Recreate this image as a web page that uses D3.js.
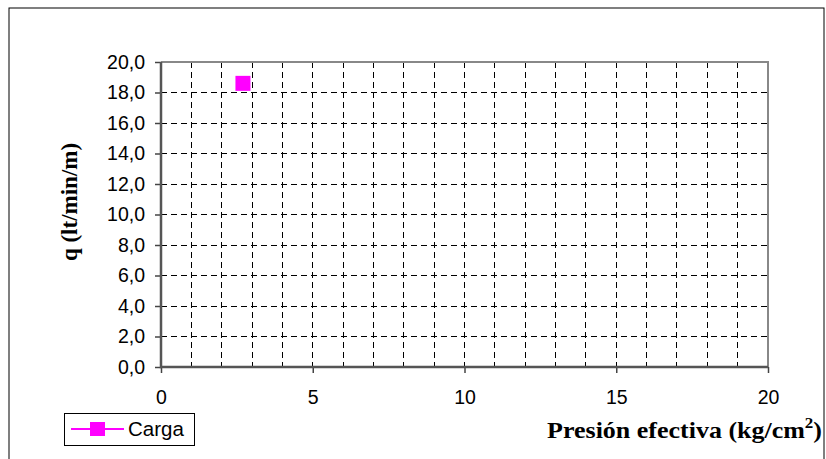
<!DOCTYPE html>
<html><head><meta charset="utf-8">
<script src="https://cdn.jsdelivr.net/npm/d3@7"></script>
<style>body{margin:0;background:#fff}svg{display:block}</style>
</head><body>
<svg id="c" width="826" height="459"></svg>
<script>
const seriesName = "Carga";
const xValues = [2.7];
const yValues = [18.6];
const xTicks = [0, 5, 10, 15, 20];
const xGrid = d3.range(1, 20);
const yTicks = [0, 2, 4, 6, 8, 10, 12, 14, 16, 18, 20];
const xTitle = "Presión efectiva (kg/cm";
const yTitle = "q (lt/min/m)";

const svg = d3.select("#c");
const L = 161, R = 768, T = 62, B = 367;
const x = d3.scaleLinear().domain([0, 20]).range([L, R]);
const y = d3.scaleLinear().domain([0, 20]).range([B, T]);

// outer frame
svg.append("rect").attr("x", 9).attr("y", 8).attr("width", 815).attr("height", 470)
  .attr("fill", "none").attr("stroke", "#000").attr("stroke-width", 1);

// grid
svg.append("g").selectAll("line").data(yTicks.filter(d => d > 0 && d < 20)).join("line")
  .attr("x1", L).attr("x2", R).attr("y1", d => y(d)).attr("y2", d => y(d))
  .attr("stroke", "#000").attr("stroke-width", 1).attr("stroke-dasharray", "6,4")
  .attr("shape-rendering", "crispEdges");
svg.append("g").selectAll("line").data(xGrid).join("line")
  .attr("x1", d => x(d)).attr("x2", d => x(d)).attr("y1", T).attr("y2", B)
  .attr("stroke", "#000").attr("stroke-width", 1).attr("stroke-dasharray", "6,4")
  .attr("shape-rendering", "crispEdges");

// top/right border
svg.append("path").attr("d", `M${L},${T}H${R}V${B}`).attr("fill", "none")
  .attr("stroke", "#888").attr("stroke-width", 2);

// axes
const yAxis = d3.axisLeft(y).tickValues(yTicks).tickSize(6).tickPadding(10)
  .tickFormat(d => d3.format(".1f")(d).replace(".", ","));
const gy = svg.append("g").attr("transform", `translate(${L},0)`).call(yAxis);
const xAxis = d3.axisBottom(x).tickValues(xTicks).tickSize(6).tickPadding(17)
  .tickFormat(d3.format("d"));
const gx = svg.append("g").attr("transform", `translate(0,${B})`).call(xAxis);
[gx, gy].forEach(g => {
  g.select(".domain").remove();
  g.selectAll(".tick line").attr("stroke", "#444").attr("stroke-width", 1.5);
  g.selectAll("text").attr("font-family", "Liberation Sans, Arial, sans-serif")
    .attr("font-size", 19.5).attr("fill", "#000");
});
svg.append("path").attr("d", `M${L},${T}V${B}H${R}`).attr("fill", "none")
  .attr("stroke", "#555").attr("stroke-width", 2.5);

// markers
svg.append("g").selectAll("rect").data(xValues.map((v, i) => [v, yValues[i]])).join("rect")
  .attr("x", d => x(d[0]) - 7.5).attr("y", d => y(d[1]) - 7.5)
  .attr("width", 15).attr("height", 15).attr("fill", "#ff00ff");

// titles
svg.append("text").attr("transform", "translate(77,202) rotate(-90)")
  .attr("text-anchor", "middle").attr("font-family", "Liberation Serif, Times New Roman, serif")
  .attr("font-weight", "bold").attr("font-size", 23).text(yTitle);
const xt = svg.append("text").attr("transform", "translate(822,438) scale(1.13,1)")
  .attr("text-anchor", "end")
  .attr("font-family", "Liberation Serif, Times New Roman, serif")
  .attr("font-weight", "bold").attr("font-size", 23);
xt.append("tspan").text(xTitle);
xt.append("tspan").attr("dy", -10).attr("font-size", 15).text("2");
xt.append("tspan").attr("dy", 10).text(")");

// legend
const lg = svg.append("g");
lg.append("rect").attr("x", 64.5).attr("y", 413.5).attr("width", 130).attr("height", 32)
  .attr("fill", "#fff").attr("stroke", "#000").attr("stroke-width", 1);
lg.append("line").attr("x1", 71).attr("x2", 124).attr("y1", 429).attr("y2", 429)
  .attr("stroke", "#ff00ff").attr("stroke-width", 2);
lg.append("rect").attr("x", 90).attr("y", 422).attr("width", 15).attr("height", 14).attr("fill", "#ff00ff");
lg.append("text").attr("x", 128).attr("y", 436).attr("font-family", "Liberation Sans, Arial, sans-serif")
  .attr("font-size", 20.5).text(seriesName);
</script>
</body></html>
